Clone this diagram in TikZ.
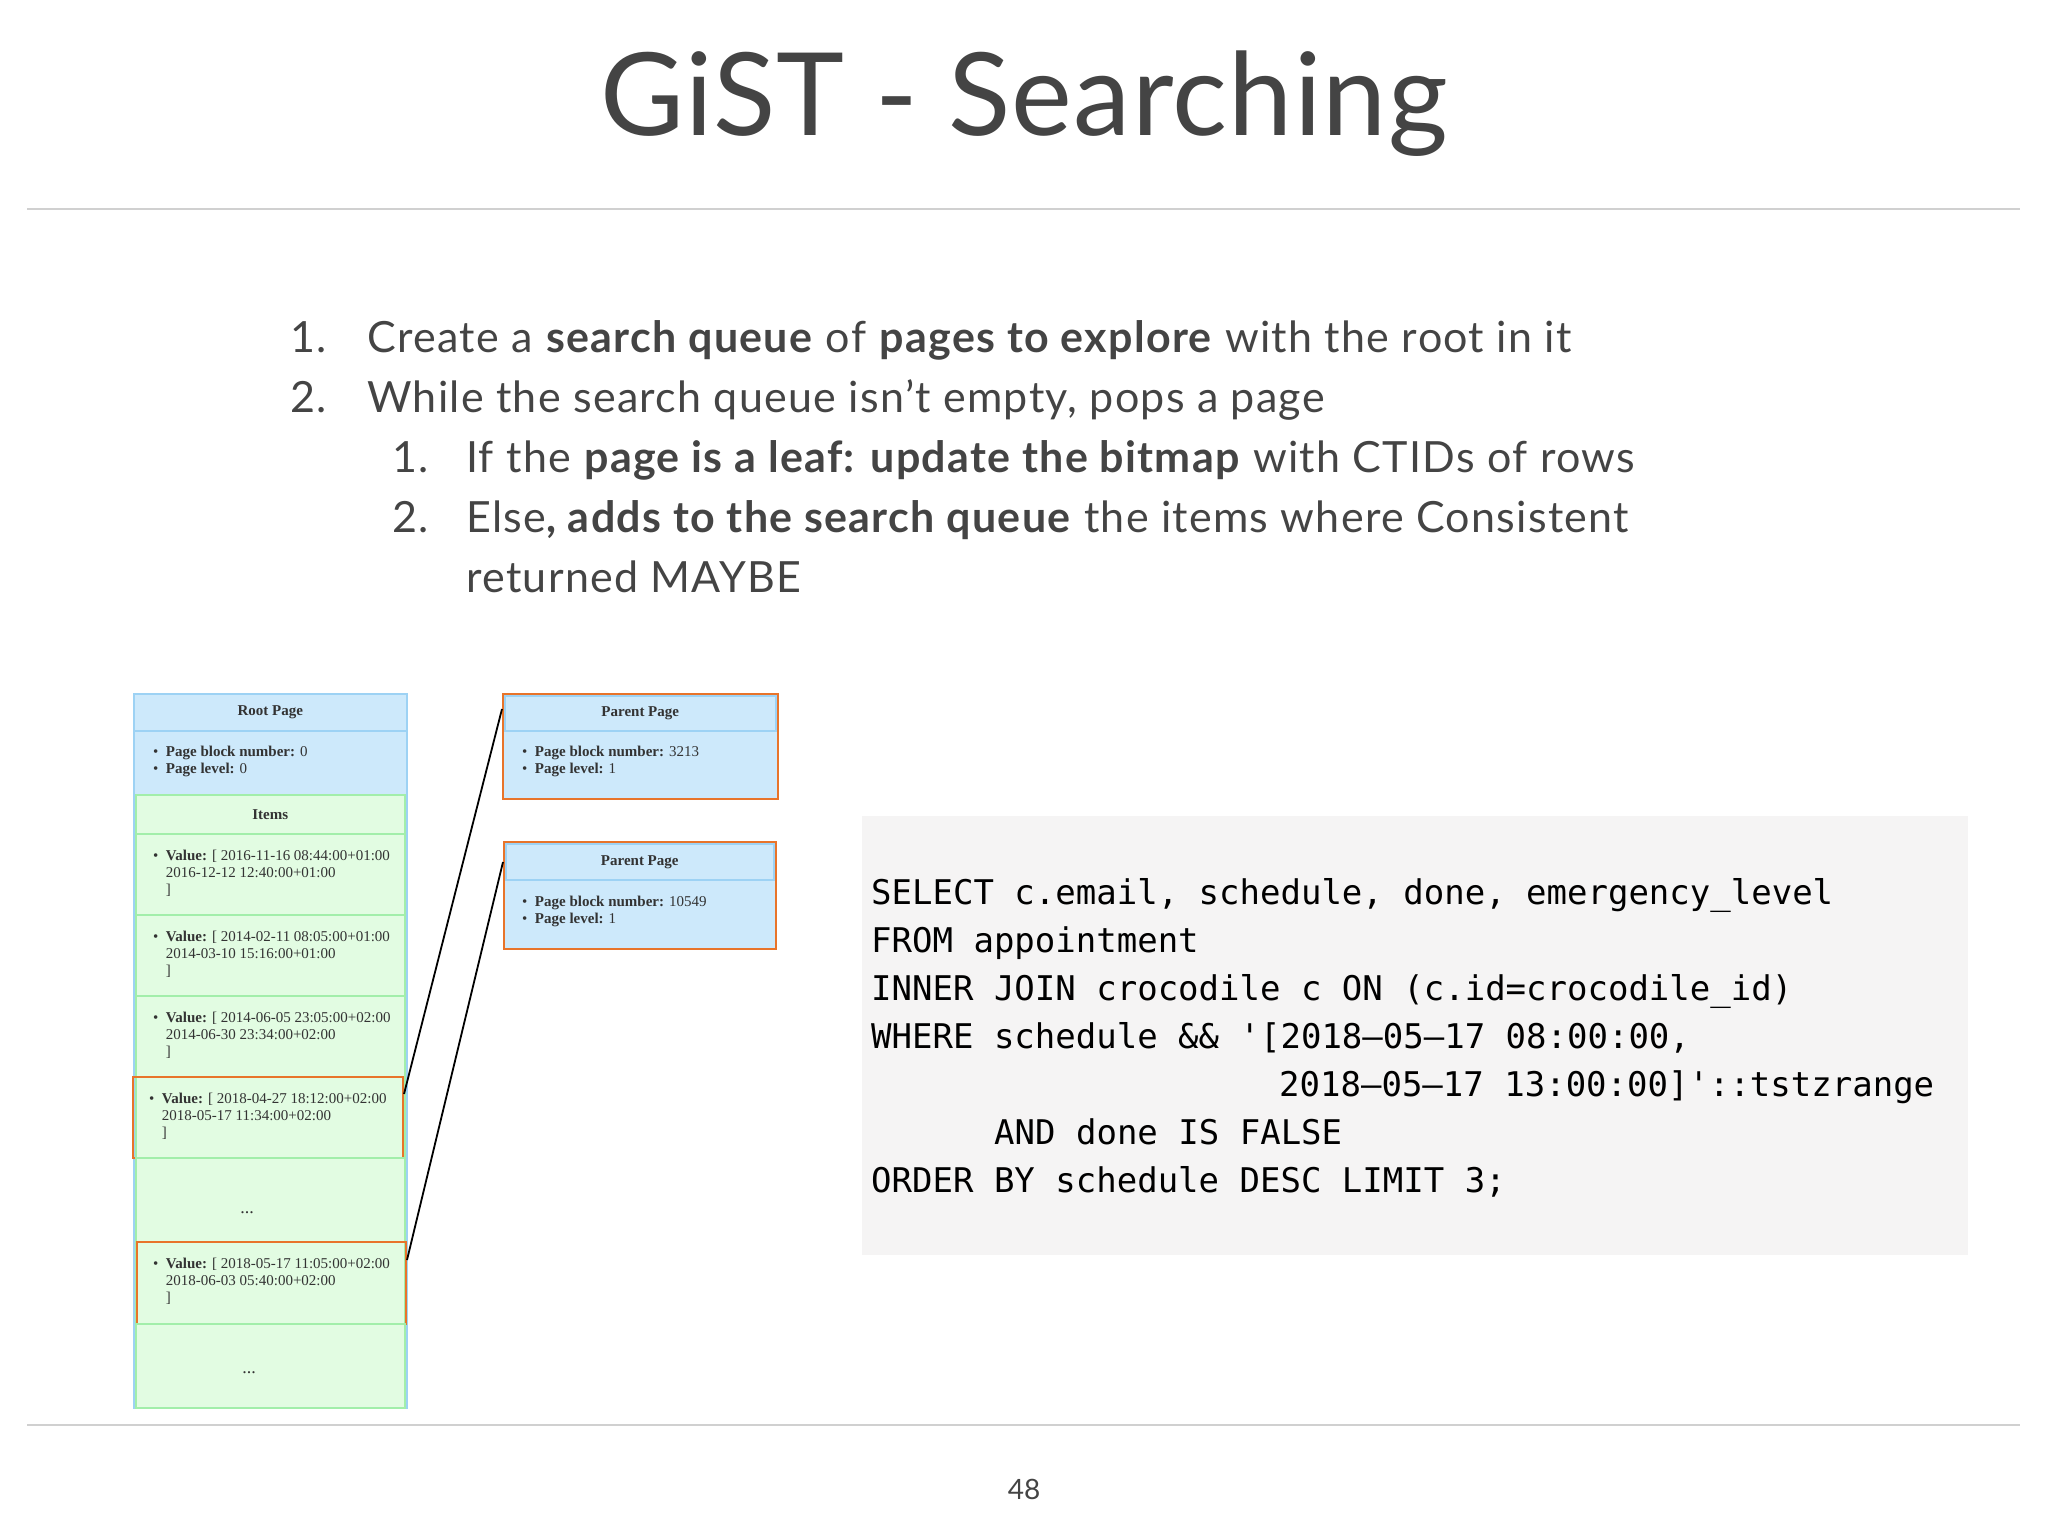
\documentclass[tikz,border=0pt]{standalone}
\usepackage{fontspec}
\setmainfont{Lato}
\newfontfamily\boxfont{Liberation Serif}
\newfontfamily\codefont{DejaVu Sans Mono}
\definecolor{txt}{HTML}{444444}
\definecolor{bluef}{HTML}{CDE9FB}
\definecolor{blueb}{HTML}{9DD2F4}
\definecolor{greenf}{HTML}{E2FCE2}
\definecolor{greenb}{HTML}{A2EEAA}
\definecolor{orng}{HTML}{E8742A}
\definecolor{codebg}{HTML}{F5F4F4}
\definecolor{rule}{HTML}{D0D0D0}
\tikzset{
  bbox/.style={draw=blueb, fill=bluef, line width=1.5pt, anchor=north west, inner sep=0pt},
  gbox/.style={draw=greenb, fill=greenf, line width=1.5pt, anchor=north west, inner sep=0pt},
  obox/.style={draw=orng, line width=2pt, anchor=north west, inner sep=0pt},
  small/.style={font=\boxfont\fontsize{15}{17}\selectfont, text=black!80, inner sep=0pt},
  lst/.style={font=\fontsize{43}{48}\selectfont\addfontfeatures{LetterSpace=3}, text=txt, anchor=base west, inner sep=0pt},
  code/.style={font=\codefont\fontsize{34}{40}\selectfont, text=black, anchor=base west, inner sep=0pt},
  link/.style={line width=1.8pt, black}
}
\newcommand{\valtxt}[2]{\begin{tabular}{@{}l@{\ \ }l@{}}\textbullet & \textbf{Value:} [ #1\\ & #2\\ & ]\end{tabular}}
\newcommand{\pgtxt}[2]{\begin{tabular}{@{}l@{\ \ }l@{}}\textbullet & \textbf{Page block number:} #1\\ \textbullet & \textbf{Page level:} #2\end{tabular}}
\begin{document}
\begin{tikzpicture}[x=1pt,y=-1pt]
\useasboundingbox[fill=white] (0,0) rectangle (2048,1536);
% title
\node[font=\fontsize{115}{120}\selectfont\addfontfeatures{LetterSpace=1}, text=txt] (title) at (1024,104) {GiST - Searching};
\draw[rule, line width=2.5pt] (27,209) -- (2020,209);
\draw[rule, line width=2.5pt] (27,1425) -- (2020,1425);
\node[font=\fontsize{28}{30}\selectfont, text=txt] (pnum) at (1024,1489) {48};
% list
\node[lst] (n1) at (290,352) {1.};
\node[lst] (t1) at (367,352) {Create a \textbf{search queue} of \textbf{pages to explore} with the root in it};
\node[lst] (n2) at (290,412) {2.};
\node[lst] (t2) at (367,412) {While the search queue isn’t empty, pops a page};
\node[lst] (n3) at (392,472) {1.};
\node[lst] (t3) at (466,472) {If the \textbf{page is a leaf: update the bitmap} with CTIDs of rows};
\node[lst] (n4) at (392,532) {2.};
\node[lst] (t4) at (466,532) {Else\textbf{, adds to the search queue} the items where Consistent};
\node[lst] (t5) at (466,592) {returned MAYBE};
% root page
\node[bbox, minimum width=273pt, minimum height=714pt] (root) at (133,693) {};
\node[bbox, minimum width=273pt, minimum height=37pt] (rooth) at (133,693) {};
\node[small] at (rooth.center) {\textbf{Root Page}};
\node[small, anchor=west] (rooti) at (153,762) {\pgtxt{0}{0}};
\node[gbox, minimum width=269pt, minimum height=39pt] (ih) at (135,794) {};
\node[small] at (ih.center) {\textbf{Items}};
\node[gbox, minimum width=269pt, minimum height=81pt] (i1) at (135,833) {};
\node[small, anchor=west] at (153,874) {\valtxt{2016-11-16 08:44:00+01:00}{2016-12-12 12:40:00+01:00}};
\node[gbox, minimum width=269pt, minimum height=81pt] (i2) at (135,914) {};
\node[small, anchor=west] at (153,955) {\valtxt{2014-02-11 08:05:00+01:00}{2014-03-10 15:16:00+01:00}};
\node[gbox, minimum width=269pt, minimum height=81pt] (i3) at (135,995) {};
\node[small, anchor=west] at (153,1036) {\valtxt{2014-06-05 23:05:00+02:00}{2014-06-30 23:34:00+02:00}};
\node[gbox, minimum width=269pt, minimum height=81pt] (i4) at (135,1076) {};
\node[obox, minimum width=270pt, minimum height=81pt] (o4) at (132,1076) {};
\node[small, anchor=west] at (149,1117) {\valtxt{2018-04-27 18:12:00+02:00}{2018-05-17 11:34:00+02:00}};
\node[gbox, minimum width=269pt, minimum height=84pt] (i5) at (135,1157) {};
\node[small, font=\boxfont\fontsize{18}{20}\selectfont] at (247,1213) {...};
\node[gbox, minimum width=269pt, minimum height=82pt] (i6) at (135,1241) {};
\node[obox, minimum width=269pt, minimum height=82pt] (o6) at (136,1241) {};
\node[small, anchor=west] at (153,1282) {\valtxt{2018-05-17 11:05:00+02:00}{2018-06-03 05:40:00+02:00}};
\node[gbox, minimum width=269pt, minimum height=84pt] (i7) at (135,1323) {};
\node[small, font=\boxfont\fontsize{18}{20}\selectfont] at (249,1373) {...};
% parent pages
\node[bbox, minimum width=275pt, minimum height=105pt] (p1) at (502,693) {};
\node[bbox, minimum width=271pt, minimum height=35pt] (p1h) at (504,695) {};
\node[small] at (p1h.center) {\textbf{Parent Page}};
\node[small, anchor=west] at (522,762) {\pgtxt{3213}{1}};
\node[obox, minimum width=275pt, minimum height=105pt] (p1o) at (502,693) {};
\node[bbox, minimum width=272pt, minimum height=107pt] (p2) at (503,841) {};
\node[bbox, minimum width=268pt, minimum height=36pt] (p2h) at (505,843) {};
\node[small] at (p2h.center) {\textbf{Parent Page}};
\node[small, anchor=west] at (522,912) {\pgtxt{10549}{1}};
\node[obox, minimum width=272pt, minimum height=107pt] (p2o) at (503,841) {};
% links
\draw[link] (o4.east |- 0,1094) -- (p1o.west |- 0,709);
\draw[link] (o6.east |- 0,1260) -- (p2o.west |- 0,862);
% code
\node[fill=codebg, anchor=north west, minimum width=1106pt, minimum height=439pt, inner sep=0pt] (cbox) at (862,816) {};
\node[code] (c1) at (871,904) {SELECT c.email, schedule, done, emergency\_level};
\node[code] (c2) at (871,952) {FROM appointment};
\node[code] (c3) at (871,1000) {INNER JOIN crocodile c ON (c.id=crocodile\_id)};
\node[code] (c4) at (871,1048) {WHERE schedule \&\& '[2018–05–17 08:00:00,};
\node[code] (c5) at (1279,1096) {2018–05–17 13:00:00]'::tstzrange};
\node[code] (c6) at (994,1144) {AND done IS FALSE};
\node[code] (c7) at (871,1192) {ORDER BY schedule DESC LIMIT 3;};
\end{tikzpicture}
\end{document}
